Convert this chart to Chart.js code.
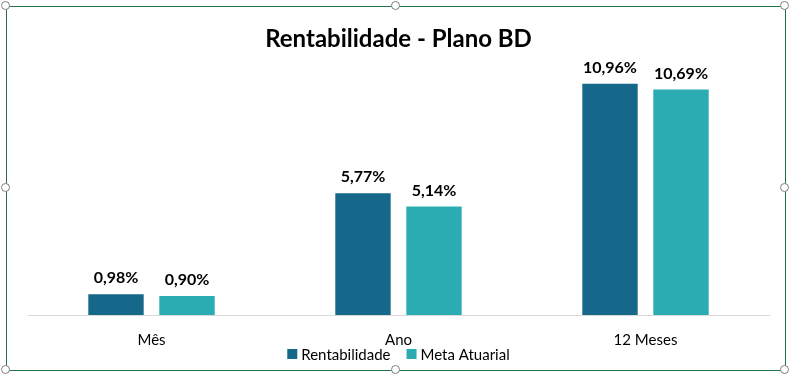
<!DOCTYPE html>
<html>
<head>
<meta charset="utf-8">
<script src="https://cdn.jsdelivr.net/npm/chart.js@4"></script>
<style>
  html, body { margin: 0; padding: 0; background: #fff; }
  #wrap { position: relative; width: 792px; height: 377px; }
  #frame { position: absolute; left: 6px; top: 6px; width: 778px; height: 363px; border: 1px solid #217346; pointer-events: none; }
  .h { position: absolute; width: 7px; height: 7px; border-radius: 50%; background: #fff; border: 1.5px solid #7f7f7f; }
</style>
</head>
<body>
<div id="wrap">
  <canvas id="c" width="792" height="377"></canvas>
  <div id="frame"></div>
  <div class="h" style="left:1px;top:1px"></div>
  <div class="h" style="left:391px;top:1px"></div>
  <div class="h" style="left:780px;top:1px"></div>
  <div class="h" style="left:1px;top:183px"></div>
  <div class="h" style="left:780px;top:183px"></div>
  <div class="h" style="left:1px;top:365px"></div>
  <div class="h" style="left:391px;top:365px"></div>
  <div class="h" style="left:780px;top:365px"></div>
</div>
<script>
// categorias e séries
var categorias = ['Mês', 'Ano', '12 Meses'];
var rentabilidade = [0.98, 5.77, 10.96];
var metaAtuarial = [0.90, 5.14, 10.69];

var FONTE = 'Lato, "Open Sans", sans-serif';

function fmtPct(v) {
  return v.toFixed(2).replace('.', ',') + '%';
}

// rótulos de dados acima das barras
var rotulos = {
  id: 'rotulos',
  afterDatasetsDraw: function (chart) {
    var ctx = chart.ctx;
    ctx.save();
    ctx.font = 'bold 16px ' + FONTE;
    ctx.fillStyle = '#000';
    ctx.textAlign = 'center';
    ctx.textBaseline = 'bottom';
    chart.data.datasets.forEach(function (ds, i) {
      chart.getDatasetMeta(i).data.forEach(function (bar, j) {
        ctx.fillText(fmtPct(ds.data[j]), bar.x, bar.y - 8);
      });
    });
    ctx.restore();
  }
};

// legenda logo abaixo dos rótulos do eixo (como no Excel)
var legenda = {
  id: 'legenda',
  afterDraw: function (chart) {
    var ctx = chart.ctx;
    var box = 10, gapTxt = 4, gapItem = 16;
    var y = chart.chartArea.bottom + 39;
    ctx.save();
    ctx.font = '15px ' + FONTE;
    ctx.textBaseline = 'middle';
    var itens = chart.data.datasets.map(function (ds) {
      return { txt: ds.label, cor: ds.backgroundColor, w: ctx.measureText(ds.label).width };
    });
    var total = 0;
    itens.forEach(function (it, i) { total += box + gapTxt + it.w + (i ? gapItem : 0); });
    var x = (chart.chartArea.left + chart.chartArea.right) / 2 - total / 2;
    itens.forEach(function (it) {
      ctx.fillStyle = it.cor;
      ctx.fillRect(x, y - box / 2, box, box);
      ctx.fillStyle = '#000';
      ctx.fillText(it.txt, x + box + gapTxt, y + 1);
      x += box + gapTxt + it.w + gapItem;
    });
    ctx.restore();
  }
};

new Chart(document.getElementById('c'), {
  type: 'bar',
  data: {
    labels: categorias,
    datasets: [
      { label: 'Rentabilidade', data: rentabilidade, backgroundColor: '#15688A' },
      { label: 'Meta Atuarial', data: metaAtuarial, backgroundColor: '#2BABB2' }
    ]
  },
  options: {
    responsive: false,
    animation: false,
    layout: { padding: { left: 28, right: 23, top: 0, bottom: 20 } },
    datasets: { bar: { categoryPercentage: 0.575, barPercentage: 0.78 } },
    plugins: {
      title: {
        display: true,
        text: 'Rentabilidade - Plano BD',
        color: '#000',
        font: { family: FONTE, size: 24, weight: 'bold' },
        padding: { top: 25, bottom: 8 }
      },
      legend: { display: false },
      tooltip: { enabled: false }
    },
    scales: {
      x: {
        grid: { display: false },
        border: { display: true, color: '#d9d9d9', width: 1 },
        ticks: { color: '#000', font: { family: FONTE, size: 15 }, padding: 8 }
      },
      y: {
        display: false,
        min: 0,
        max: 12
      }
    }
  },
  plugins: [rotulos, legenda]
});
</script>
</body>
</html>
